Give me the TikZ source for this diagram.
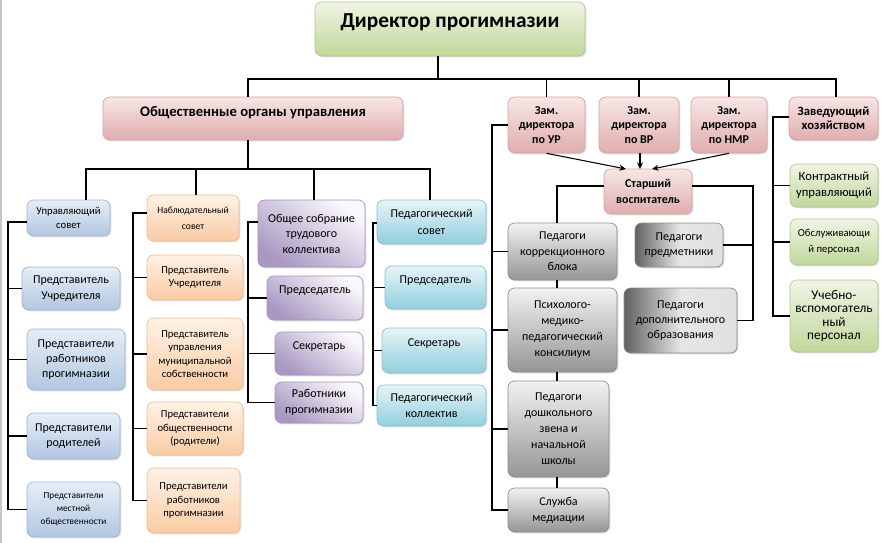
\documentclass[tikz,border=0pt]{standalone}
\usepackage{fontspec}
\setmainfont{Carlito}
\usetikzlibrary{arrows.meta,shadows}
\definecolor{pinkT}{HTML}{F7E6E6}
\definecolor{pinkB}{HTML}{E0ADAD}
\definecolor{pinkD}{HTML}{D6A3A3}
\definecolor{bluT}{HTML}{E6EEF7}
\definecolor{bluB}{HTML}{B2C7E1}
\definecolor{bluD}{HTML}{9DB4D4}
\definecolor{orT}{HTML}{FEF2E6}
\definecolor{orB}{HTML}{F9CBA4}
\definecolor{orD}{HTML}{F2BC90}
\definecolor{puT}{HTML}{FAF8FC}
\definecolor{puB}{HTML}{A898C2}
\definecolor{puD}{HTML}{A291BD}
\definecolor{cyT}{HTML}{E6F4F8}
\definecolor{cyB}{HTML}{92CEDD}
\definecolor{cyD}{HTML}{88C3D2}
\definecolor{grT}{HTML}{F0F5E4}
\definecolor{grB}{HTML}{C1D79A}
\definecolor{grD}{HTML}{B0C98A}
\definecolor{gyT}{HTML}{F2F2F2}
\definecolor{gyB}{HTML}{959595}
\definecolor{gyD}{HTML}{8C8C8C}
\newcommand\bx[7]{%
  \pgfmathsetmacro\bxcx{(#3+#5)/2}%
  \pgfmathsetmacro\bxcy{(#4+#6)/2}%
  \pgfmathsetmacro\bxw{(#5-#3)*0.75}%
  \pgfmathsetmacro\bxh{(#6-#4)*0.75}%
  \node[#2, minimum width=\bxw pt, minimum height=\bxh pt] (#1) at (\bxcx,\bxcy) {#7};}
\newcommand\fs[2]{\fontsize{#1}{#2}\selectfont}
\tikzset{
  box/.style={rounded corners=5pt, draw, line width=0.5pt, align=center, inner sep=1pt,
    drop shadow={shadow xshift=1pt, shadow yshift=-1pt, opacity=0.25}},
  pinkbox/.style={box, draw=pinkD, top color=pinkT, bottom color=pinkB},
  blubox/.style={box, draw=bluD, top color=bluT, bottom color=bluB},
  orbox/.style={box, draw=orD, top color=orT, bottom color=orB},
  pubox/.style={box, draw=puD, top color=puT, bottom color=puB, shading angle=-35},
  cybox/.style={box, draw=cyD, top color=cyT, bottom color=cyB},
  grbox/.style={box, draw=grD, top color=grT, bottom color=grB},
  gybox/.style={box, draw=gyD, top color=gyT, bottom color=gyB},
  dkbox/.style={box, draw=gyD, left color=black!62, right color=black!12, middle color=black!10},
  ln/.style={draw=black, line width=0.8pt},
  arr/.style={ln, -{Stealth[length=5pt,width=4.5pt]}},
}
\begin{document}
\begin{tikzpicture}[x=0.75pt,y=-0.75pt]
\useasboundingbox (0,0) rectangle (886,543);
\fill[white] (0,0) rectangle (886,543);
\draw[gray!45, line width=1.2pt] (1,0) -- (1,543);
% top
\bx{dir}{grbox, font=\fs{16}{19}\bfseries, text depth=12pt}{315}{2}{585}{56}{Директор прогимназии}
\bx{obs}{pinkbox, font=\fs{11}{13}\bfseries, text depth=11pt}{103}{97}{403}{140}{Общественные органы управления}
\bx{zur}{pinkbox, font=\fs{9}{11}\bfseries}{508}{97}{585}{153}{Зам.\\директора\\по УР}
\bx{zvr}{pinkbox, font=\fs{9}{11}\bfseries}{599}{97}{679}{153}{Зам.\\директора\\по ВР}
\bx{znm}{pinkbox, font=\fs{9}{11}\bfseries}{691}{97}{767}{153}{Зам.\\директора\\по НМР}
\bx{zav}{pinkbox, font=\fs{9.5}{10.5}\bfseries}{789}{97}{878}{140}{Заведующий\\хозяйством}
\bx{star}{pinkbox, font=\fs{9}{12}\bfseries}{604}{169}{692}{214}{Старший\\воспитатель}
% grey
\bx{g1}{gybox, font=\fs{9}{11.5}}{508}{223}{617}{280}{Педагоги\\коррекционного\\блока}
\bx{g2}{gybox, font=\fs{9}{12}}{508}{288}{617}{372}{Психолого-\\медико-\\педагогический\\консилиум}
\bx{g3}{gybox, font=\fs{9}{12}}{508}{381}{609}{477}{Педагоги\\дошкольного\\звена и\\начальной\\школы}
\bx{g4}{gybox, font=\fs{9}{12}}{508}{488}{609}{532}{Служба\\медиации}
\bx{p1}{dkbox, font=\fs{9}{11.5}}{635}{223}{723}{267}{Педагоги\\предметники}
\bx{p2}{dkbox, font=\fs{9}{11.5}}{624}{288}{737}{353}{Педагоги\\дополнительного\\образования}
% green
\bx{k1}{grbox, font=\fs{9.5}{12}}{790}{164}{878}{207}{Контрактный\\управляющий}
\bx{k2}{grbox, font=\fs{8}{12}}{790}{219}{878}{265}{Обслуживающи\\й персонал}
\bx{k3}{grbox, font=\fs{10}{10.2}}{790}{280}{878}{352}{Учебно-\\вспомогатель\\ный\\персонал}
% blue
\bx{u0}{blubox, font=\fs{8}{10}}{27}{200}{110}{236}{Управляющий\\совет}
\bx{u1}{blubox, font=\fs{9}{12}}{22}{267}{120}{310}{Представитель\\Учредителя}
\bx{u2}{blubox, font=\fs{9}{11.25}}{27}{329}{125}{390}{Представители\\работников\\прогимназии}
\bx{u3}{blubox, font=\fs{9}{11.25}}{27}{413}{120}{459}{Представители\\родителей}
\bx{u4}{blubox, font=\fs{7}{9.75}}{27}{482}{120}{537}{Представители\\местной\\общественности}
% orange
\bx{n0}{orbox, font=\fs{7.2}{12}}{147}{195}{239}{241}{Наблюдательный\\совет}
\bx{n1}{orbox, font=\fs{8}{10}}{147}{255}{243}{300}{Представитель\\Учредителя}
\bx{n2}{orbox, font=\fs{8}{10}}{147}{318}{243}{390}{Представитель\\управления\\муниципальной\\собственности}
\bx{n3}{orbox, font=\fs{8}{10}}{147}{402}{243}{455}{Представители\\общественности\\(родители)}
\bx{n4}{orbox, font=\fs{8}{10}}{147}{468}{240}{533}{Представители\\работников\\прогимназии}
% purple
\bx{o0}{pubox, font=\fs{9}{11.6}}{258}{200}{365}{267}{Общее собрание\\трудового\\коллектива}
\bx{o1}{pubox, font=\fs{9}{11.6}, text depth=12pt}{267}{276}{363}{320}{Председатель}
\bx{o2}{pubox, font=\fs{9}{11.6}, text depth=12pt}{275}{332}{363}{375}{Секретарь}
\bx{o3}{pubox, font=\fs{9}{12}}{275}{382}{363}{423}{Работники\\прогимназии}
% cyan
\bx{c0}{cybox, font=\fs{9}{12.75}}{377}{200}{486}{244}{Педагогический\\совет}
\bx{c1}{cybox, font=\fs{9}{12}, text depth=12pt}{385}{266}{486}{309}{Председатель}
\bx{c2}{cybox, font=\fs{9}{12}, text depth=12pt}{382}{328}{486}{373}{Секретарь}
\bx{c3}{cybox, font=\fs{9}{12}}{377}{385}{486}{426}{Педагогический\\коллектив}
% connectors: top level
\coordinate (h1) at (438,79);
\coordinate (hL) at (248,79);
\coordinate (hR) at (836,79);
\draw[ln] (dir.south -| h1) -- (h1);
\draw[ln] (hL |- obs.north) -- (hL) -- (hR) -- (hR |- zav.north);
\draw[ln] (zur.north) -- (zur.north |- h1);
\draw[ln] (zvr.north) -- (zvr.north |- h1);
\draw[ln] (znm.north) -- (znm.north |- h1);
% second level
\coordinate (h2L) at (86,169);
\coordinate (h2R) at (430,169);
\coordinate (hn) at (196,169);
\coordinate (ho) at (314,169);
\draw[ln] (hL |- obs.south) -- (hL |- h2L);
\draw[ln] (h2L |- u0.north) -- (h2L) -- (h2R) -- (h2R |- c0.north);
\draw[ln] (hn) -- (hn |- n0.north);
\draw[ln] (ho) -- (ho |- o0.north);
% blue bracket
\coordinate (bu) at (8,222);
\draw[ln] (u0.west |- bu) -- (bu) |- (u4.west);
\draw[ln] (bu) |- (u1.west);
\draw[ln] (bu) |- (u2.west);
\draw[ln] (bu) |- (u3.west);
% orange bracket
\coordinate (bn) at (133,213);
\draw[ln] (n0.west |- bn) -- (bn) |- (n4.west);
\draw[ln] (bn) |- (n1.west);
\draw[ln] (bn) |- (n2.west);
\draw[ln] (bn) |- (n3.west);
% purple bracket
\coordinate (bo) at (248,222);
\draw[ln] (o0.west |- bo) -- (bo) |- (o3.west);
\draw[ln] (bo) |- (o1.west);
\draw[ln] (bo) |- (o2.west);
% cyan bracket
\coordinate (bc) at (373,223);
\draw[ln] (c0.west |- bc) -- (bc) |- (c3.west);
\draw[ln] (bc) |- (c1.west);
\draw[ln] (bc) |- (c2.west);
% UR bracket
\coordinate (bg) at (492,125);
\draw[ln] (zur.west) -- (zur.west -| bg) |- (g4.west);
\draw[ln] (zur.west -| bg) |- (g1.west);
\draw[ln] (zur.west -| bg) |- (g2.west);
\draw[ln] (zur.west -| bg) |- (g3.west);
% star connectors
\coordinate (vg) at (557,186);
\coordinate (vr) at (753,186);
\draw[ln] (star.west |- vg) -- (vg) -- (vg |- g1.north);
\draw[ln] (vg |- g1.south) -- (vg |- g2.north);
\draw[ln] (vg |- g2.south) -- (vg |- g3.north);
\draw[ln] (vg |- g3.south) -- (vg |- g4.north);
\draw[ln] (star.east |- vr) -- (vr) |- (p2.east);
\draw[ln] (vr) |- (p1.east);
% zav bracket
\coordinate (bz) at (773,117);
\draw[ln] (zav.west |- bz) -- (bz) |- (k3.west);
\draw[ln] (bz) |- (k1.west);
\draw[ln] (bz) |- (k2.west);
% arrows
\coordinate (a1) at (626,169);
\coordinate (a2) at (640,169);
\coordinate (a3) at (652,169);
\draw[arr] (zur.south) -- (a1);
\draw[arr] (zvr.south -| a2) -- (a2);
\draw[arr] (znm.south) -- (a3);
\end{tikzpicture}
\end{document}
